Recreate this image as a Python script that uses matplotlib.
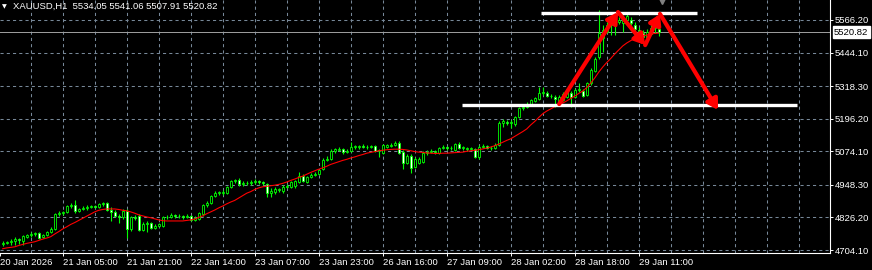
import numpy as np
import matplotlib.pyplot as plt
from matplotlib.patches import FancyArrowPatch

plt.rcParams['font.family'] = ['Liberation Sans', 'DejaVu Sans']

# XAUUSD H1 bars (one value per hourly bar)
opens = [
    4727, 4730, 4734, 4738, 4745, 4738, 4753, 4760, 4764, 4768,
    4753, 4760, 4772, 4783, 4839, 4843, 4847, 4869, 4873, 4850,
    4858, 4862, 4865, 4869, 4865, 4877, 4880, 4854, 4847, 4832,
    4828, 4850, 4783, 4828, 4832, 4779, 4801, 4805, 4786, 4794,
    4794, 4828, 4828, 4835, 4832, 4832, 4828, 4832, 4817, 4820,
    4839, 4873, 4880, 4907, 4918, 4918, 4918, 4940, 4963, 4967,
    4952, 4955, 4955, 4959, 4963, 4959, 4952, 4918, 4922, 4928,
    4925, 4940, 4940, 4944, 4959, 4981, 4959, 4978, 4985, 4989,
    5008, 5041, 5045, 5075, 5079, 5083, 5071, 5075, 5090, 5090,
    5094, 5090, 5090, 5094, 5075, 5068, 5092, 5094, 5098, 5105,
    5071, 5030, 5056, 5015, 5030, 5034, 5068, 5071, 5075, 5068,
    5086, 5090, 5086, 5079, 5101, 5086, 5083, 5083, 5083, 5053,
    5090, 5094, 5086, 5086, 5098, 5180, 5184, 5180, 5176, 5203,
    5236, 5240, 5251, 5263, 5270, 5292, 5292, 5281, 5278, 5263,
    5266, 5278, 5292, 5278, 5304, 5300, 5285, 5330, 5375, 5428,
    5499, 5521, 5547, 5551, 5559, 5555, 5566, 5566, 5547, 5529,
    5517, 5503, 5514, 5536, 5534.05,
]
highs = [
    4738, 4738, 4745, 4753, 4749, 4760, 4764, 4772, 4772, 4772,
    4764, 4775, 4790, 4843, 4850, 4850, 4873, 4880, 4892, 4862,
    4869, 4873, 4873, 4873, 4880, 4884, 4884, 4865, 4854, 4839,
    4858, 4858, 4832, 4835, 4839, 4809, 4813, 4809, 4801, 4805,
    4832, 4835, 4843, 4839, 4839, 4835, 4839, 4835, 4832, 4847,
    4877, 4888, 4910, 4925, 4925, 4929, 4944, 4967, 4970, 4974,
    4963, 4963, 4967, 4970, 4967, 4963, 4955, 4936, 4940, 4936,
    4948, 4952, 4963, 4967, 4996, 4989, 4981, 4993, 4996, 5004,
    5049, 5056, 5083, 5086, 5090, 5086, 5083, 5109, 5098, 5098,
    5101, 5098, 5098, 5098, 5083, 5101, 5101, 5105, 5113, 5113,
    5079, 5064, 5064, 5053, 5053, 5075, 5079, 5083, 5079, 5090,
    5098, 5094, 5094, 5105, 5109, 5094, 5090, 5090, 5086, 5098,
    5101, 5098, 5094, 5105, 5188, 5195, 5191, 5191, 5206, 5240,
    5251, 5259, 5270, 5277, 5315, 5315, 5300, 5289, 5285, 5285,
    5296, 5311, 5300, 5311, 5330, 5308, 5334, 5386, 5428, 5604,
    5547, 5559, 5566, 5585, 5577, 5585, 5589, 5577, 5559, 5540,
    5529, 5532, 5547, 5547, 5541.06,
]
lows = [
    4719, 4727, 4723, 4723, 4727, 4723, 4749, 4753, 4757, 4745,
    4749, 4757, 4768, 4779, 4832, 4835, 4843, 4862, 4843, 4847,
    4854, 4854, 4862, 4862, 4862, 4869, 4850, 4813, 4828, 4805,
    4820, 4749, 4775, 4817, 4775, 4775, 4772, 4783, 4783, 4792,
    4790, 4820, 4824, 4824, 4824, 4820, 4824, 4813, 4813, 4817,
    4832, 4865, 4877, 4903, 4910, 4910, 4914, 4936, 4955, 4944,
    4944, 4948, 4948, 4952, 4952, 4948, 4903, 4903, 4914, 4922,
    4918, 4936, 4936, 4936, 4955, 4959, 4955, 4974, 4981, 4985,
    5004, 5038, 5041, 5068, 5075, 5064, 5068, 5071, 5083, 5083,
    5086, 5083, 5086, 5071, 5053, 5064, 5086, 5090, 5094, 5064,
    5008, 5026, 4993, 5011, 5026, 5030, 5060, 5068, 5064, 5064,
    5083, 5079, 5079, 5075, 5083, 5079, 5075, 5079, 5049, 5045,
    5086, 5083, 5079, 5083, 5094, 5165, 5173, 5161, 5169, 5199,
    5229, 5236, 5248, 5259, 5266, 5285, 5278, 5274, 5240, 5259,
    5263, 5274, 5240, 5274, 5296, 5278, 5281, 5323, 5371, 5420,
    5446, 5517, 5510, 5510, 5551, 5521, 5559, 5547, 5499, 5510,
    5476, 5499, 5510, 5517, 5507.91,
]
closes = [
    4730, 4734, 4738, 4745, 4742, 4757, 4760, 4764, 4768, 4749,
    4760, 4772, 4783, 4839, 4843, 4847, 4869, 4873, 4850, 4858,
    4862, 4865, 4869, 4865, 4877, 4880, 4854, 4847, 4832, 4828,
    4850, 4783, 4828, 4824, 4779, 4801, 4805, 4786, 4794, 4801,
    4828, 4828, 4835, 4832, 4833, 4828, 4832, 4817, 4824, 4843,
    4873, 4880, 4907, 4918, 4920, 4922, 4940, 4963, 4965, 4952,
    4955, 4957, 4959, 4963, 4959, 4955, 4918, 4925, 4933, 4931,
    4940, 4944, 4959, 4963, 4981, 4963, 4978, 4985, 4989, 5004,
    5041, 5045, 5075, 5083, 5083, 5071, 5075, 5090, 5094, 5094,
    5090, 5092, 5094, 5075, 5079, 5098, 5096, 5098, 5105, 5068,
    5030, 5056, 5011, 5045, 5045, 5068, 5071, 5075, 5071, 5086,
    5090, 5086, 5088, 5101, 5086, 5089, 5086, 5085, 5053, 5090,
    5094, 5086, 5088, 5098, 5180, 5187, 5180, 5184, 5203, 5236,
    5240, 5248, 5266, 5274, 5292, 5296, 5281, 5283, 5270, 5278,
    5289, 5304, 5278, 5304, 5308, 5281, 5330, 5379, 5420, 5517,
    5529, 5547, 5555, 5570, 5566, 5574, 5581, 5555, 5532, 5525,
    5503, 5521, 5536, 5540, 5520.82,
]
# red moving average as it appears on the chart
ma_values = [
    4709, 4712, 4714, 4716, 4721, 4725, 4729, 4732, 4735, 4740,
    4745, 4749, 4754, 4764, 4773, 4783, 4791, 4800, 4807, 4815,
    4823, 4831, 4839, 4847, 4853, 4856, 4858, 4858, 4858, 4856,
    4853, 4851, 4847, 4842, 4836, 4832, 4828, 4825, 4821, 4817,
    4814, 4813, 4813, 4813, 4813, 4813, 4815, 4817, 4820, 4826,
    4832, 4840, 4847, 4854, 4862, 4869, 4877, 4884, 4890, 4899,
    4908, 4917, 4923, 4931, 4937, 4941, 4943, 4945, 4947, 4950,
    4954, 4959, 4965, 4970, 4976, 4981, 4988, 4995, 5001, 5007,
    5012, 5018, 5025, 5030, 5035, 5040, 5044, 5049, 5053, 5058,
    5062, 5067, 5070, 5073, 5076, 5078, 5080, 5081, 5082, 5082,
    5081, 5079, 5076, 5073, 5071, 5070, 5068, 5067, 5066, 5066,
    5067, 5067, 5068, 5069, 5070, 5071, 5074, 5076, 5078, 5080,
    5083, 5086, 5090, 5095, 5101, 5108, 5115, 5121, 5130, 5139,
    5148, 5158, 5173, 5186, 5201, 5215, 5225, 5233, 5241, 5249,
    5255, 5263, 5272, 5281, 5291, 5300, 5313, 5330, 5349, 5371,
    5390, 5407, 5422, 5439, 5454, 5469, 5480, 5489, 5497, 5502,
    5506, 5510, 5513, 5516, 5517,
]

price_ticks = [4704.10, 4826.20, 4948.30, 5074.10, 5196.20, 5318.30, 5444.10, 5566.20]
time_pos = [-0.6, 15, 31, 47, 63, 79, 95, 111, 127, 143, 159]
time_labels = ['20 Jan 2026', '21 Jan 05:00', '21 Jan 21:00', '22 Jan 14:00',
               '23 Jan 07:00', '23 Jan 23:00', '26 Jan 16:00', '27 Jan 09:00',
               '28 Jan 02:00', '28 Jan 18:00', '29 Jan 11:00']
title = 'XAUUSD,H1  5534.05 5541.06 5507.91 5520.82'
last_price = 5520.82

# drawn objects: two horizontal levels and the red zig-zag arrows
level_top, top_from, top_to = 5594.2, 134.6, 173.6
level_bottom, bottom_from, bottom_to = 5249.4, 114.8, 198.6
arrow_x = [139.1, 153.8, 160.6, 164.3, 178.8]
arrow_y = [5251, 5596, 5472, 5589, 5229]
marker_x, marker_y = 164.8, 5636

lime = '#00ff00'
grid_col = '#778899'
fs = 6.8

fig = plt.figure(figsize=(8.72, 2.70), dpi=100, facecolor='black')
ax = fig.add_axes([0, 17 / 270, 830 / 872, 253 / 270])
ax.set_facecolor('black')

o = np.array(opens)
h = np.array(highs)
l = np.array(lows)
c = np.array(closes)
x = np.arange(len(c))

# grid
for v in np.arange(7, 207, 8):
    ax.axvline(v, color=grid_col, lw=0.75, dashes=(3, 3), zorder=0)
for p in price_ticks:
    ax.axhline(p, color=grid_col, lw=0.75, dashes=(3, 3), zorder=0)

ax.axhline(last_price, color='#a0a0a0', lw=0.7, zorder=1)

# candles
up = c >= o
ax.vlines(x, l, h, color=lime, lw=0.8, zorder=2)
ax.bar(x, c - o, bottom=o, width=0.5, color=np.where(up, 'black', 'white'),
       edgecolor=lime, linewidth=0.6, zorder=3)

ax.plot(x, ma_values, color='red', lw=0.8, zorder=4)

# objects
ax.hlines(level_top, top_from, top_to, color='white', lw=2.4, zorder=5)
ax.hlines(level_bottom, bottom_from, bottom_to, color='white', lw=2.4, zorder=5)
for i in range(len(arrow_x) - 1):
    arr = FancyArrowPatch((arrow_x[i], arrow_y[i]), (arrow_x[i + 1], arrow_y[i + 1]),
                          arrowstyle='-|>,head_length=0.5,head_width=0.3',
                          mutation_scale=12, lw=3.0, color='red',
                          shrinkA=0, shrinkB=0, zorder=6)
    ax.add_patch(arr)
ax.plot(marker_x, marker_y, marker='v', color='#808080', ms=4, clip_on=False, zorder=6)

ax.set_xlim(-0.675, 206.8)
ax.set_ylim(4692.9, 5641.1)

ax.yaxis.tick_right()
ax.set_yticks(price_ticks)
ax.set_yticklabels(['%.2f' % p for p in price_ticks])
ax.set_xticks(time_pos)
ax.set_xticklabels(time_labels, ha='left')
ax.tick_params(axis='both', colors='white', length=2.2, width=0.7, pad=1.5, labelsize=fs)

for s in ['top', 'left']:
    ax.spines[s].set_visible(False)
for s in ['right', 'bottom']:
    ax.spines[s].set_color('white')
    ax.spines[s].set_linewidth(0.8)

ax.text(1.005, last_price, '%.2f' % last_price, transform=ax.get_yaxis_transform(),
        ha='left', va='center', fontsize=fs, color='black', clip_on=False, zorder=10,
        bbox=dict(boxstyle='square,pad=0.15', fc='white', ec='white'))

fig.text(2 / 872, 1 - 6.5 / 270, '\u25bc', fontsize=4.5, color='white',
         family='DejaVu Sans', va='center', ha='left')
fig.text(12.7 / 872, 1 - 6.5 / 270, title, fontsize=fs, color='white',
         va='center', ha='left')

fig.savefig('out.png', dpi=100, facecolor='black')
